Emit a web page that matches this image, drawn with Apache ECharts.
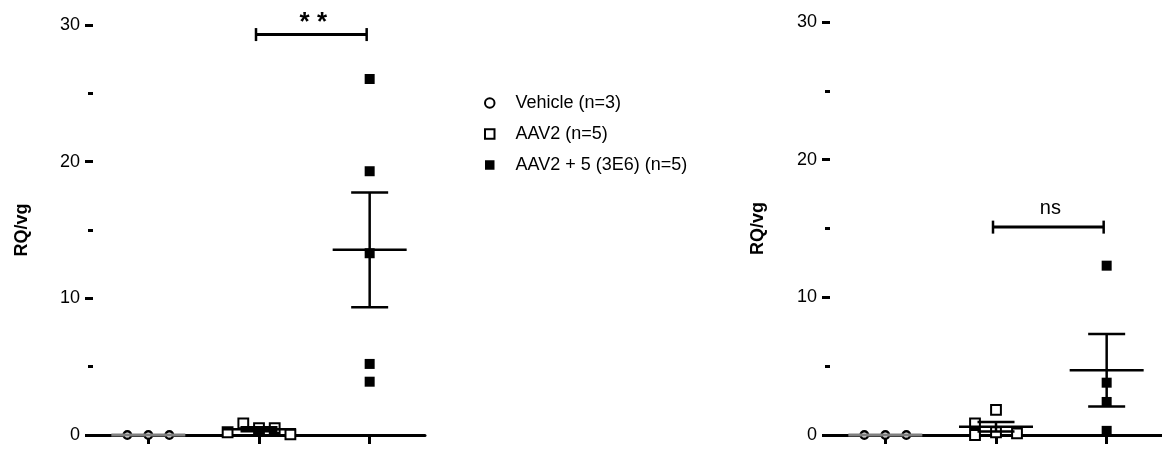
<!DOCTYPE html>
<html><head><meta charset="utf-8">
<script src="https://cdn.jsdelivr.net/npm/echarts@6/dist/echarts.min.js"></script>
<style>html,body{margin:0;padding:0;background:#fff}#c{width:1162px;height:450px}</style>
</head><body><div id="c"></div>
<script>
// ---------- data ----------
const groupNames = ['Vehicle (n=3)', 'AAV2 (n=5)', 'AAV2 + 5 (3E6) (n=5)'];
const yTickValues = [0, 10, 20, 30];
const yAxisTitle = 'RQ/vg';
// left panel
const leftVehicle = [0, 0, 0];
const leftAAV2 = [0.5, 0.85, 0.5, 0.2, 0.05];
const leftAAV25 = [26.05, 19.3, 13.3, 5.2, 3.9];
const leftSigGroups = [2, 3];
const leftSigValue = 29.3;
const leftSigText = '* *';
// right panel
const rightVehicle = [0, 0, 0];
const rightAAV2 = [1.82, 0.2, 0.85, 0.0, 0.12];
const rightAAV25 = [12.3, 3.8, 2.4, 0.3];
const rightSigGroups = [2, 3];
const rightSigValue = 15.1;
const rightSigText = 'ns';

// ---------- helpers ----------
const FONT = 'Arial, "Liberation Sans", sans-serif';
const PX_PER_UNIT = 332 / 3;
function swarm(vals, thr) {
  const placed = [], order = [0, -1, 1, -2, 2, -3, 3];
  return vals.map(v => {
    for (const s of order) {
      if (!placed.some(p => p.s === s && Math.abs(p.v - v) < thr)) { placed.push({s, v}); return s; }
    }
    return 0;
  });
}
function points(vals, gi) {
  const slots = swarm(vals, 0.85);
  const maxS = Math.max(...slots.map(Math.abs));
  const step = (maxS >= 2 ? 15.7 : 21) / PX_PER_UNIT;
  return vals.map((v, i) => [gi + slots[i] * step, v]);
}
function stats(vals) {
  const n = vals.length, m = vals.reduce((a, b) => a + b, 0) / n;
  const sd = Math.sqrt(vals.reduce((a, b) => a + (b - m) * (b - m), 0) / (n - 1));
  return [m, sd / Math.sqrt(n)];
}
const symbolStyles = [
  {symbol: 'circle', symbolSize: 7.5, itemStyle: {color: '#fff', borderColor: '#000', borderWidth: 2.4, opacity: 1}},
  {symbol: 'rect', symbolSize: 9.8, itemStyle: {color: '#fff', borderColor: '#000', borderWidth: 2, opacity: 1}},
  {symbol: 'rect', symbolSize: 10, itemStyle: {color: '#000', borderColor: '#000', borderWidth: 0, opacity: 1}}
];

function errRender(params, api) {
  const x = api.value(0), m = api.value(1), s = api.value(2), gray = api.value(3);
  const c = api.coord([x, m]);
  const col = gray ? '#808080' : '#000';
  const ch = [{type: 'line', shape: {x1: c[0] - 37, y1: c[1], x2: c[0] + 37, y2: c[1]}, style: {stroke: col, lineWidth: gray ? 3 : 2.5}}];
  if (s > 0) {
    const hi = api.coord([x, m + s]), lo = api.coord([x, m - s]);
    ch.push({type: 'line', shape: {x1: c[0], y1: hi[1], x2: c[0], y2: lo[1]}, style: {stroke: col, lineWidth: 2.5}});
    ch.push({type: 'line', shape: {x1: c[0] - 18.5, y1: hi[1], x2: c[0] + 18.5, y2: hi[1]}, style: {stroke: col, lineWidth: 2.5}});
    ch.push({type: 'line', shape: {x1: c[0] - 18.5, y1: lo[1], x2: c[0] + 18.5, y2: lo[1]}, style: {stroke: col, lineWidth: 2.5}});
  }
  return {type: 'group', children: ch};
}
function sigRender(text, font, dy) {
  return function (params, api) {
    const a = api.coord([api.value(0), api.value(2)]), b = api.coord([api.value(1), api.value(2)]);
    const x1 = a[0] - 3, x2 = b[0] - 3, y = a[1];
    return {type: 'group', children: [
      {type: 'line', shape: {x1: x1, y1: y, x2: x2, y2: y}, style: {stroke: '#000', lineWidth: 3}},
      {type: 'line', shape: {x1: x1, y1: y - 6.5, x2: x1, y2: y + 6.5}, style: {stroke: '#000', lineWidth: 2.5}},
      {type: 'line', shape: {x1: x2, y1: y - 6.5, x2: x2, y2: y + 6.5}, style: {stroke: '#000', lineWidth: 2.5}},
      {type: 'text', style: {text: text, x: (x1 + x2) / 2 + 2, y: y - dy, align: 'center', verticalAlign: 'middle',
        fill: '#000', font: font}}
    ]};
  };
}

function axesFor(idx, gap) {
  return {
    x: {gridIndex: idx, type: 'value', min: 0.5, max: 3.5,
      axisLine: {show: true, lineStyle: {color: '#000', width: 3}},
      axisTick: {show: true, customValues: [1, 2, 3], length: 9, lineStyle: {color: '#000', width: 3}},
      axisLabel: {show: false}, splitLine: {show: false}},
    y: {gridIndex: idx, type: 'value', min: yTickValues[0], max: yTickValues[yTickValues.length - 1], interval: 10,
      name: yAxisTitle, nameLocation: 'middle', nameGap: gap,
      nameTextStyle: {fontFamily: FONT, fontSize: 18, fontWeight: 'bold', color: '#000'},
      axisLine: {show: false},
      axisTick: {show: true, length: 8, lineStyle: {color: '#000', width: 3}},
      minorTick: {show: true, splitNumber: 2, length: 5, lineStyle: {color: '#000', width: 3}},
      axisLabel: {fontFamily: FONT, fontSize: 18, color: '#000', margin: 13},
      splitLine: {show: false}}
  };
}
const A0 = axesFor(0, 62), A1 = axesFor(1, 63);

const panels = [
  {data: [leftVehicle, leftAAV2, leftAAV25], sig: [leftSigGroups, leftSigValue, leftSigText], font: 'bold 26px ' + FONT, dy: 12},
  {data: [rightVehicle, rightAAV2, rightAAV25], sig: [rightSigGroups, rightSigValue, rightSigText], font: '20px ' + FONT, dy: 19}
];
const series = [];
panels.forEach((p, pi) => {
  p.data.forEach((vals, gi) => {
    series.push(Object.assign({
      name: groupNames[gi], type: 'scatter', xAxisIndex: pi, yAxisIndex: pi, clip: false, z: 3,
      data: points(vals, gi + 1)
    }, JSON.parse(JSON.stringify(symbolStyles[gi]))));
  });
  series.push({type: 'custom', xAxisIndex: pi, yAxisIndex: pi, z: 5, silent: true, clip: false,
    renderItem: errRender,
    data: p.data.map((vals, gi) => { const s = stats(vals); return [gi + 1, s[0], s[1], gi === 0 ? 1 : 0]; })});
  series.push({type: 'custom', xAxisIndex: pi, yAxisIndex: pi, z: 5, silent: true, clip: false,
    renderItem: sigRender(p.sig[2], p.font, p.dy),
    data: [[p.sig[0][0], p.sig[0][1], p.sig[1]]]});
});

const chart = echarts.init(document.getElementById('c'), null, {renderer: 'canvas'});
chart.setOption({
  animation: false,
  backgroundColor: '#fff',
  textStyle: {fontFamily: FONT},
  grid: [
    {left: 93, top: 25, width: 332, height: 410},
    {left: 830, top: 22, width: 332, height: 413}
  ],
  xAxis: [A0.x, A1.x],
  yAxis: [A0.y, A1.y],
  legend: {orient: 'vertical', left: 479, top: 89, itemWidth: 9.5, itemHeight: 9.5, itemGap: 13,
    data: groupNames.map(n => ({name: n, itemStyle: {opacity: 1}})),
    textStyle: {fontFamily: FONT, fontSize: 18, color: '#000', padding: [0, 0, 0, 16]}, selectedMode: false},
  series: series
});
</script></body></html>
